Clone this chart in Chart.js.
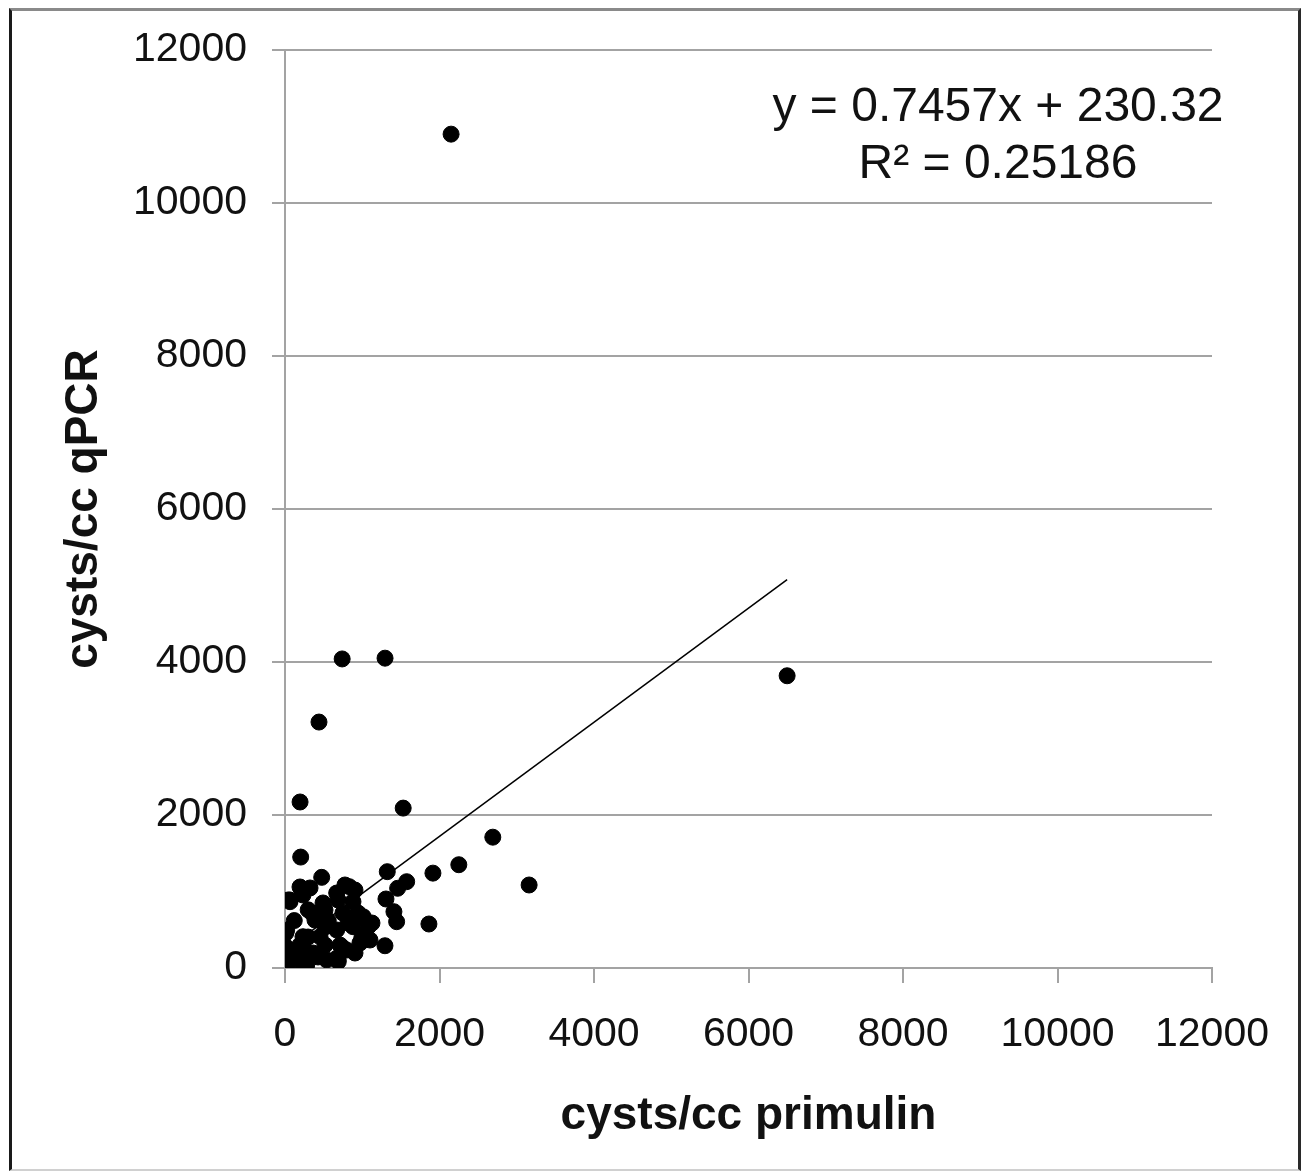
<!DOCTYPE html>
<html>
<head>
<meta charset="utf-8">
<script src="https://cdn.jsdelivr.net/npm/chart.js@4/dist/chart.umd.min.js"></script>
<style>
  html, body { margin: 0; padding: 0; background: #fff; }
  #wrap { position: relative; width: 1307px; height: 1173px; }
  #frame {
    position: absolute; left: 9px; top: 8px; width: 1286px; height: 1158px;
    border-top: 3px solid #8a8a8a; border-left: 3px solid #1a1a1a;
    border-right: 3px solid #2a2a2a; border-bottom: 2px solid #d0d0d0;
    pointer-events: none;
  }
</style>
</head>
<body>
<div id="wrap">
  <canvas id="chart" width="1307" height="1173"></canvas>
  <div id="frame"></div>
</div>
<script>
// cysts/cc primulin (x) vs cysts/cc qPCR (y)
const primulin = [
  2150, 740, 1295, 440, 6500, 195, 1530, 2690, 2250, 1915, 3160, 203,
  475, 1324, 1575, 1458, 1307, 1410, 1445, 1863, 1294, 832, 1013, 1078,
  669, 880, 492, 65, 233, 324, 750, 669, 22, 233, 453, 970,
  798, 10, 151, 362, 669, 22, 281, 540, 1100, 880,
  388, 518, 194, 65, 712, 690, 120, 300, 560, 250,
  194, 65, 776, 906, 686, 945, 1126, 996, 738, 686, 427, 220,
  10, 10, 39, 220, 349, 518, 518, 298, 168, 815, 906
];
const qpcr = [
  10900, 4040, 4050, 3215, 3820, 2170, 2090, 1710, 1350, 1240, 1085, 1450,
  1185, 1259, 1128, 1042, 902, 736, 605, 575, 291, 1063, 670, 540,
  980, 867, 850, 867, 954, 1046, 719, 497, 497, 409, 409, 327,
  235, 278, 148, 196, 127, 17, 39, 105, 366, 540,
  627, 300, 300, 105, 300, 85, 620, 760, 620, 240,
  1059, 889, 1085, 1019, 889, 719, 588, 405, 275, 105, 144, 65,
  105, 457, 889, 1019, 719, 536, 758, 405, 235, 588, 196
];
const xTicks = [0, 2000, 4000, 6000, 8000, 10000, 12000];
const yTicks = [0, 2000, 4000, 6000, 8000, 10000, 12000];
const slope = 0.7457;
const intercept = 230.32;
const eqLines = ["y = 0.7457x + 230.32", "R\u00B2 = 0.25186"];

const points = primulin.map((x, i) => ({ x: x, y: qpcr[i] }));
const xMin = Math.min(...primulin);
const xMax = Math.max(...primulin);
const trend = [
  { x: xMin, y: slope * xMin + intercept },
  { x: xMax, y: slope * xMax + intercept },
];

const FONT = "'Liberation Sans', Arial, sans-serif";
const GRID = "#a3a3a3";

const equationLabel = {
  id: "equationLabel",
  afterDraw(chart) {
    const { ctx, chartArea } = chart;
    ctx.save();
    ctx.fillStyle = "#111";
    ctx.font = "48px " + FONT;
    ctx.textAlign = "center";
    ctx.textBaseline = "middle";
    const cx = chartArea.right - 214;
    ctx.fillText(eqLines[0], cx, chartArea.top + 58);
    ctx.fillText(eqLines[1], cx, chartArea.top + 115);
    ctx.restore();
  },
};

new Chart(document.getElementById("chart"), {
  type: "scatter",
  data: {
    datasets: [
      {
        data: points,
        backgroundColor: "#000",
        borderColor: "#000",
        pointRadius: 8,
        pointHoverRadius: 8,
      },
      {
        type: "line",
        data: trend,
        borderColor: "#000",
        borderWidth: 1.5,
        pointRadius: 0,
        fill: false,
      },
    ],
  },
  options: {
    responsive: false,
    animation: false,
    layout: { padding: { left: 0, right: 95, top: 50, bottom: 0 } },
    plugins: { legend: { display: false }, tooltip: { enabled: false } },
    scales: {
      x: {
        type: "linear",
        min: 0,
        max: 12000,
        afterBuildTicks: (s) => { s.ticks = xTicks.map((v) => ({ value: v })); },
        afterFit: (s) => { s.height = 205; },
        grid: { drawOnChartArea: false, drawTicks: true, tickLength: 15, color: GRID, lineWidth: 2 },
        border: { color: GRID, width: 2 },
        ticks: {
          color: "#111",
          font: { family: FONT, size: 41 },
          padding: 27,
          maxRotation: 0,
          callback: (v) => String(v),
        },
        title: {
          display: true,
          text: "cysts/cc primulin",
          color: "#111",
          font: { family: FONT, size: 46, weight: "bold", lineHeight: 1.2 },
          padding: { top: 0, bottom: 29 },
        },
      },
      y: {
        type: "linear",
        min: 0,
        max: 12000,
        afterBuildTicks: (s) => { s.ticks = yTicks.map((v) => ({ value: v })); },
        afterFit: (s) => { s.width = 285; },
        grid: { color: GRID, lineWidth: 2, tickLength: 13 },
        border: { color: GRID, width: 2 },
        ticks: {
          color: "#111",
          font: { family: FONT, size: 41 },
          padding: 25,
          callback: (v) => String(v),
        },
        title: {
          display: true,
          text: "cysts/cc qPCR",
          color: "#111",
          font: { family: FONT, size: 46, weight: "bold", lineHeight: 1.2 },
          padding: { top: 57, bottom: 0 },
        },
      },
    },
  },
  plugins: [equationLabel],
});
</script>
</body>
</html>
